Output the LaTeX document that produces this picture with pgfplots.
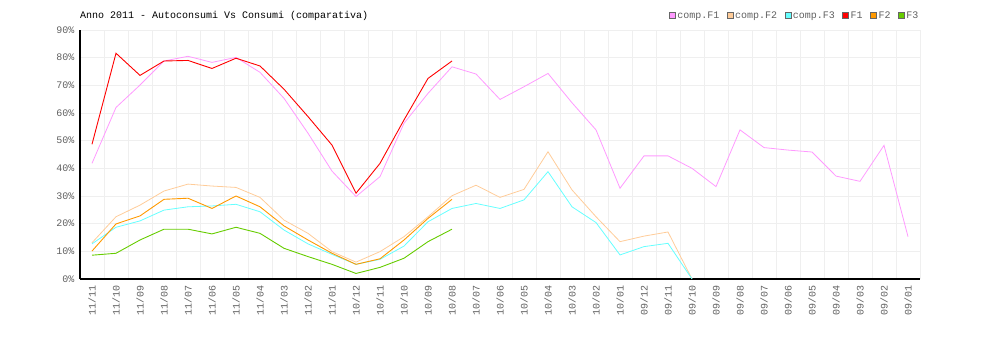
\documentclass[border=0pt]{standalone}
\usepackage{pgfplots}
\pgfplotsset{compat=1.18}
\usepackage{pgfplotstable}
\usepackage{fontspec}
\setmainfont{Liberation Mono}
\definecolor{cpF1}{HTML}{FF99FF}
\definecolor{cpF2}{HTML}{FFCC99}
\definecolor{cpF3}{HTML}{66FFFF}
\definecolor{cF1}{HTML}{FF0000}
\definecolor{cF2}{HTML}{FF9900}
\definecolor{cF3}{HTML}{66CC00}
\definecolor{gridc}{HTML}{EFEFEF}
\definecolor{labc}{HTML}{606060}

\pgfplotstableread{
x y
0 41.8
1 62.0
2 70.1
3 78.8
4 80.5
5 78.3
6 80.1
7 74.7
8 65.3
9 52.7
10 39.0
11 29.8
12 37.0
13 56.3
14 67.1
15 76.7
16 74.1
17 64.9
18 69.5
19 74.3
20 63.7
21 53.9
22 32.8
23 44.5
24 44.5
25 40.0
26 33.4
27 53.9
28 47.5
29 46.6
30 45.9
31 37.2
32 35.3
33 48.3
34 15.3
}\compFone

\pgfplotstableread{
x y
0 13.1
1 22.5
2 26.7
3 31.8
4 34.3
5 33.6
6 33.1
7 29.5
8 21.3
9 16.5
10 9.9
11 6.1
12 9.9
13 15.3
14 22.5
15 30.1
16 33.9
17 29.5
18 32.4
19 46.0
20 32.2
21 22.5
22 13.5
23 15.5
24 17.0
25 0
}\compFtwo

\pgfplotstableread{
x y
0 12.7
1 18.7
2 21.0
3 24.9
4 26.1
5 26.4
6 27.0
7 24.3
8 17.7
9 12.7
10 8.9
11 5.3
12 7.1
13 11.9
14 20.7
15 25.5
16 27.3
17 25.5
18 28.6
19 38.8
20 26.1
21 20.4
22 8.7
23 11.7
24 12.9
25 0
}\compFthree

\pgfplotstableread{
x y
0 48.7
1 81.6
2 73.6
3 78.8
4 79.0
5 76.1
6 79.8
7 77.0
8 68.6
9 58.7
10 48.4
11 31.0
12 41.8
13 57.5
14 72.5
15 78.8
}\Fone

\pgfplotstableread{
x y
0 10.1
1 19.9
2 22.8
3 28.8
4 29.2
5 25.5
6 30.0
7 26.1
8 19.2
9 14.1
10 9.3
11 5.3
12 7.3
13 14.1
14 21.9
15 28.8
}\Ftwo

\pgfplotstableread{
x y
0 8.6
1 9.3
2 14.1
3 18.0
4 18.0
5 16.3
6 18.7
7 16.5
8 11.1
9 8.1
10 5.3
11 2.0
12 4.2
13 7.5
14 13.5
15 18.0
}\Fthree

\begin{document}
\begin{tikzpicture}
\useasboundingbox (0pt,0pt) rectangle (1000pt,340pt);
\node[anchor=base west, inner sep=0pt, font=\fontsize{10}{12}\selectfont] at (80pt,321pt) {Anno 2011 - Autoconsumi Vs Consumi (comparativa)};
\begin{axis}[
  at={(80pt,61pt)}, anchor=south west,
  scale only axis, width=840pt, height=249pt,
  xmin=-0.5, xmax=34.5, ymin=0, ymax=90,
  axis lines*=left,
  axis line style={-, black, line width=1.2pt},
  xtick={0,...,34},
  xticklabels={11/11,11/10,11/09,11/08,11/07,11/06,11/05,11/04,11/03,11/02,11/01,10/12,10/11,10/10,10/09,10/08,10/07,10/06,10/05,10/04,10/03,10/02,10/01,09/12,09/11,09/10,09/09,09/08,09/07,09/06,09/05,09/04,09/03,09/02,09/01},
  minor xtick={-0.5,0.5,...,34.5},
  ytick={0,10,...,90},
  yticklabels={0\%,10\%,20\%,30\%,40\%,50\%,60\%,70\%,80\%,90\%},
  xmajorgrids=false, xminorgrids=true, ymajorgrids=true,
  grid style={gridc, line width=0.8pt},
  minor grid style={gridc, line width=0.8pt},
  major tick length=0pt, minor tick length=0pt,
  tick style={draw=none},
  ticklabel style={font=\fontsize{10}{12}\selectfont, text=labc},
  xticklabel style={rotate=90, anchor=east, xshift=-3pt},
  yticklabel style={anchor=east, xshift=-2pt},
  clip=false,
  legend columns=6,
  legend style={at={(1,1)}, anchor=east, yshift=14.5pt, draw=none, fill=none,
    inner sep=0pt, font=\fontsize{10}{12}\selectfont, text=labc,
    nodes={inner xsep=1.5pt, inner ysep=0pt, anchor=west},
    /tikz/every even column/.append style={column sep=6pt}},
  legend image code/.code={\draw[#1] (0pt,-3pt) rectangle (6pt,3pt);},
]
\addlegendimage{fill=cpF1, draw=gray!80!black, line width=0.8pt}
\addlegendentry{comp.F1}
\addlegendimage{fill=cpF2, draw=gray!80!black, line width=0.8pt}
\addlegendentry{comp.F2}
\addlegendimage{fill=cpF3, draw=gray!80!black, line width=0.8pt}
\addlegendentry{comp.F3}
\addlegendimage{fill=cF1, draw=gray!80!black, line width=0.8pt}
\addlegendentry{F1}
\addlegendimage{fill=cF2, draw=gray!80!black, line width=0.8pt}
\addlegendentry{F2}
\addlegendimage{fill=cF3, draw=gray!80!black, line width=0.8pt}
\addlegendentry{F3}

\addplot[forget plot, cpF1, line width=0.8pt, no marks] table[x=x,y=y] {\compFone};
\addplot[forget plot, cpF2, line width=0.8pt, no marks] table[x=x,y=y] {\compFtwo};
\addplot[forget plot, cpF3, line width=0.8pt, no marks] table[x=x,y=y] {\compFthree};
\addplot[forget plot, cF1, line width=0.9pt, no marks] table[x=x,y=y] {\Fone};
\addplot[forget plot, cF2, line width=0.9pt, no marks] table[x=x,y=y] {\Ftwo};
\addplot[forget plot, cF3, line width=0.9pt, no marks] table[x=x,y=y] {\Fthree};
\end{axis}
\end{tikzpicture}
\end{document}
